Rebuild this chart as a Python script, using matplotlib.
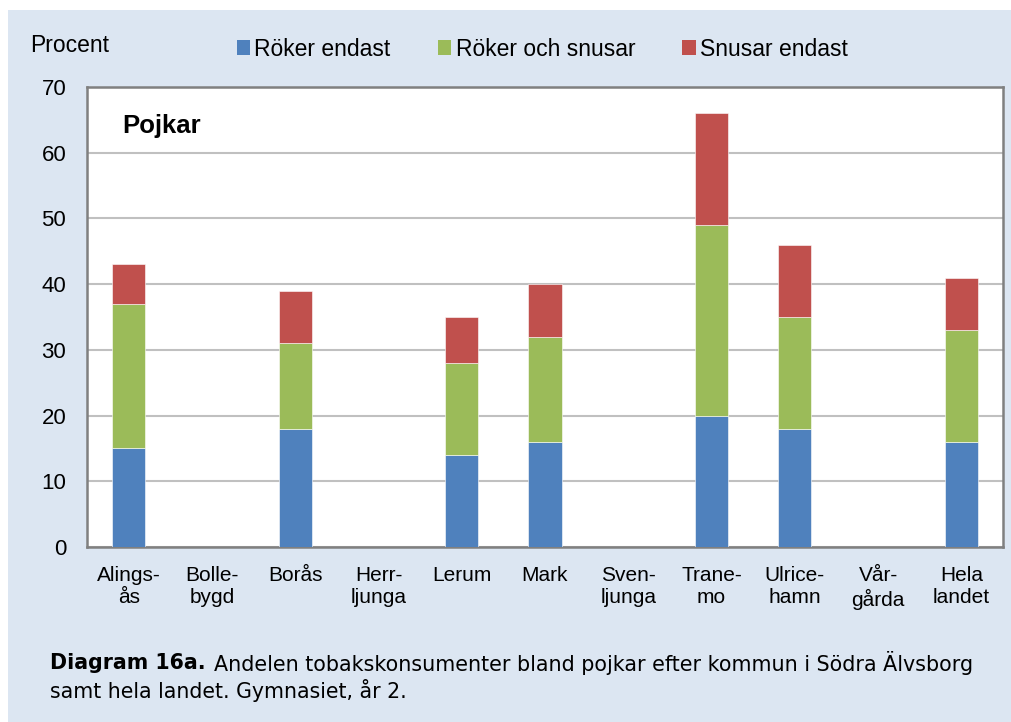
import matplotlib.pyplot as plt
from matplotlib.patches import Rectangle, Patch
import numpy as np

kommuner = ["Alings-\nås", "Bolle-\nbygd", "Borås", "Herr-\nljunga", "Lerum", "Mark",
            "Sven-\nljunga", "Trane-\nmo", "Ulrice-\nhamn", "Vår-\ngårda", "Hela\nlandet"]
roker_endast = [15, 0, 18, 0, 14, 16, 0, 20, 18, 0, 16]
roker_snusar = [22, 0, 13, 0, 14, 16, 0, 29, 17, 0, 17]
snusar_endast = [6, 0, 8, 0, 7, 8, 0, 17, 11, 0, 8]
serier = ["Röker endast", "Röker och snusar", "Snusar endast"]
farger = ["#4f81bd", "#9bbb59", "#c0504d"]

plt.rcParams['font.family'] = ['Liberation Sans', 'DejaVu Sans']

W, H = 1012, 722
fig = plt.figure(figsize=(W / 100, H / 100), dpi=100)
fig.patch.set_facecolor("white")
# light blue panel behind everything
fig.patches.append(Rectangle((8 / W, 0), 1 - 8 / W, 1 - 10 / H, transform=fig.transFigure,
                             facecolor="#dce6f2", edgecolor="none", zorder=-10))

ax = fig.add_axes([87 / W, (H - 547) / H, 916 / W, 460 / H])
ax.set_facecolor("white")

x = np.arange(len(kommuner))
b1 = np.array(roker_endast)
b2 = np.array(roker_snusar)
b3 = np.array(snusar_endast)
bw = 0.4
ax.bar(x, b1, bw, color=farger[0], edgecolor="white", linewidth=0.4, zorder=3)
ax.bar(x, b2, bw, bottom=b1, color=farger[1], edgecolor="white", linewidth=0.4, zorder=3)
ax.bar(x, b3, bw, bottom=b1 + b2, color=farger[2], edgecolor="white", linewidth=0.4, zorder=3)

ax.set_xlim(-0.5, len(kommuner) - 0.5)
ax.set_ylim(0, 70)
ax.set_yticks(range(0, 71, 10))
ax.yaxis.grid(True, color="#c0c0c0", linewidth=1.5, zorder=0)
ax.set_axisbelow(True)
ax.set_xticks(x)
ax.set_xticklabels(kommuner, fontsize=15, linespacing=1.2)
ax.tick_params(axis="both", length=0)
ax.tick_params(axis="x", pad=14)
ax.tick_params(axis="y", pad=15, labelsize=16)
for s in ax.spines.values():
    s.set_color("#808080")
    s.set_linewidth(1.8)

ax.text(0.039, 0.915, "Pojkar", transform=ax.transAxes, fontsize=18.5, fontweight="bold",
        va="center", ha="left")

fig.text(30 / W, 1 - 45 / H, "Procent", fontsize=16.5, va="center", ha="left")

handles = [Patch(facecolor=c, edgecolor="none") for c in farger]
fig.legend(handles, serier, loc="center left", bbox_to_anchor=(216 / W, 1 - 49 / H),
           ncol=3, frameon=False, fontsize=16.5, handlelength=0.6, handleheight=0.6,
           handletextpad=0.18, columnspacing=2.05)

fig.text(50 / W, 1 - 663 / H, "Diagram 16a.", fontsize=14.8, fontweight="bold",
         va="center", ha="left", family=["DejaVu Sans"])
fig.text(214 / W, 1 - 663 / H, "Andelen tobakskonsumenter bland pojkar efter kommun i Södra Älvsborg",
         fontsize=14.9, va="center", ha="left", family=["DejaVu Sans"])
fig.text(50 / W, 1 - 690 / H, "samt hela landet. Gymnasiet, år 2.",
         fontsize=14.8, va="center", ha="left", family=["DejaVu Sans"])

fig.savefig("out.png", dpi=100)
